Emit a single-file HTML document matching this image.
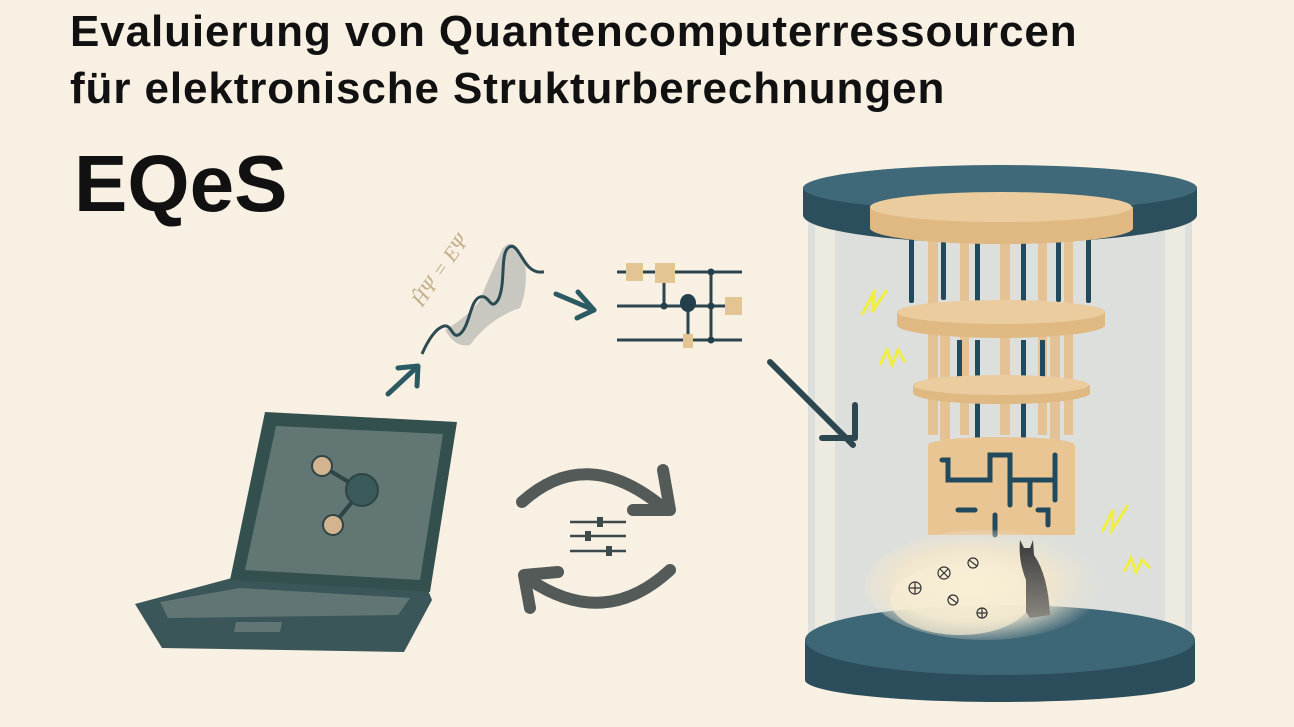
<!DOCTYPE html>
<html><head><meta charset="utf-8"><style>
html,body{margin:0;padding:0;background:#f8f0e3;}
body{width:1294px;height:727px;overflow:hidden;position:relative;font-family:"Liberation Sans",sans-serif;}
.t{position:absolute;left:70px;font-weight:bold;color:#111;font-size:44px;letter-spacing:0.9px;white-space:nowrap;line-height:1;}
</style></head><body>
<div class="t" style="top:10px;">Evaluierung von Quantencomputerressourcen</div>
<div class="t" style="top:67px;">für elektronische Strukturberechnungen</div>
<div class="t" style="top:144px;left:74px;font-size:80px;letter-spacing:0;">EQeS</div>
<svg width="1294" height="727" style="position:absolute;left:0;top:0">
<defs>
<radialGradient id="cl" cx="0.45" cy="0.5" r="0.55"><stop offset="0" stop-color="#fff6dc"/><stop offset="0.6" stop-color="#f2e6cc" stop-opacity="0.9"/><stop offset="1" stop-color="#e8e2d6" stop-opacity="0"/></radialGradient>
<linearGradient id="cat" x1="0" y1="0" x2="0" y2="1"><stop offset="0" stop-color="#3a3a3a"/><stop offset="1" stop-color="#8a8680"/></linearGradient>
</defs>
<rect x="808" y="215" width="384" height="440" fill="#dcdfdc"/>
<rect x="815" y="215" width="20" height="440" fill="#f1ece0" opacity="0.8"/>
<rect x="1165" y="215" width="20" height="440" fill="#f1ece0" opacity="0.8"/>
<path d="M805 640 L805 680 A195 22 0 0 0 1195 680 L1195 640 Z" fill="#2c4d5b"/>
<ellipse cx="1000" cy="640" rx="195" ry="35" fill="#3d6676"/>
<path d="M803 188 L803 215 A197 28 0 0 0 1197 215 L1197 188 Z" fill="#2c4f5d"/>
<ellipse cx="1000" cy="188" rx="197" ry="23" fill="#3f6878"/>
<g fill="#e5c293">
<rect x="928" y="235" width="10" height="200"/><rect x="960" y="235" width="9" height="200"/><rect x="1000" y="235" width="10" height="200"/><rect x="1038" y="235" width="9" height="200"/><rect x="1064" y="235" width="9" height="200"/>
<rect x="940" y="330" width="10" height="110"/><rect x="1050" y="330" width="10" height="110"/>
</g>
<g fill="#234a5c">
<rect x="909" y="228" width="5" height="75" rx="2"/><rect x="941" y="215" width="5" height="85" rx="2"/><rect x="975" y="212" width="5" height="90" rx="2"/><rect x="1021" y="212" width="5" height="90" rx="2"/><rect x="1056" y="214" width="5" height="88" rx="2"/><rect x="1086" y="228" width="5" height="75" rx="2"/>
<rect x="957" y="340" width="5" height="40"/><rect x="975" y="340" width="5" height="40"/><rect x="1021" y="340" width="5" height="40"/><rect x="1040" y="340" width="5" height="40"/>
<rect x="975" y="398" width="5" height="40"/><rect x="1021" y="398" width="5" height="40"/>
</g>
<path d="M870 207 L870 228 A131 16 0 0 0 1133 228 L1133 207 Z" fill="#dfb882"/>
<ellipse cx="1001" cy="207" rx="131" ry="15" fill="#ebcc9e"/>
<path d="M897 312 L897 325 A104 13 0 0 0 1105 325 L1105 312 Z" fill="#dfb882"/>
<ellipse cx="1001" cy="312" rx="104" ry="12" fill="#ebcc9e"/>
<path d="M913 385 L913 393 A88 11 0 0 0 1090 393 L1090 385 Z" fill="#dfb882"/>
<ellipse cx="1001" cy="385" rx="88" ry="10" fill="#ebcc9e"/>
<path d="M928 445 A73 8 0 0 1 1075 445 L1075 535 L928 535 Z" fill="#e8c593"/>
<g fill="none" stroke="#234a5c" stroke-width="5" stroke-linecap="round">
<path d="M942 460 L948 460 L948 480 L990 480 L990 455 L1010 455 L1010 480 L1055 480"/>
<path d="M1055 455 L1055 500"/><path d="M1010 480 L1010 505"/><path d="M1030 480 L1030 505"/>
<path d="M958 510 L975 510"/><path d="M995 515 L995 535"/><path d="M1038 510 L1048 510 L1048 525"/>
</g>
<ellipse cx="985" cy="585" rx="120" ry="55" fill="url(#cl)"/>
<ellipse cx="960" cy="600" rx="70" ry="35" fill="#f6ecd3" opacity="0.7"/>
<g fill="none" stroke="#333" stroke-width="1.2">
<circle cx="915" cy="588" r="6"/><path d="M909 588h12M915 582v12"/>
<circle cx="944" cy="573" r="6"/><path d="M940 569l8 8M948 569l-8 8"/>
<circle cx="973" cy="563" r="5"/><path d="M969 560l8 6"/>
<circle cx="953" cy="600" r="5"/><path d="M949 597l8 6"/>
<circle cx="982" cy="613" r="5"/><path d="M977 613h10M982 608v10"/>
</g>
<path d="M1020 540 L1024 548 L1030 548 L1033 540 L1034 555 Q1048 575 1050 615 L1030 618 L1026 612 L1026 580 Q1018 560 1020 540 Z" fill="url(#cat)"/>
<g fill="none" stroke="#f0ee40" stroke-width="3">
<path d="M862 315 L875 290 L872 312 L887 290"/>
<path d="M880 365 L887 350 L892 365 L898 350 L905 362"/>
<path d="M1102 532 L1113 510 L1112 530 L1128 505"/>
<path d="M1124 572 L1131 558 L1136 572 L1142 560 L1150 568"/>
</g>
<g fill="none" stroke="#2c4750" stroke-width="6" stroke-linecap="round" stroke-linejoin="round">
<path d="M770 362 L853 445"/><path d="M822 438 L855 438 L855 405"/>
</g>
<g fill="none" stroke="#2b5a62" stroke-width="5" stroke-linecap="round" stroke-linejoin="round">
<path d="M388 394 L416 368"/><path d="M398 368 L418 366 L417 386"/>
<path d="M556 294 L594 310"/><path d="M578 292 L594 310 L577 318"/>
</g>
<path d="M445 330 Q470 315 480 300 Q492 270 503 248 Q515 235 525 262 Q528 290 520 308 Q490 318 470 345 Q455 348 445 330 Z" fill="#c8c7c0"/>
<path d="M422 354 C428 340 436 328 444 326 C452 324 452 340 460 334 C470 326 470 300 480 297 C490 294 490 312 498 300 C506 285 500 255 508 248 C516 240 522 262 530 268 C536 273 540 272 544 272" fill="none" stroke="#2c4a52" stroke-width="3"/>
<text x="0" y="0" transform="translate(422,308) rotate(-55)" font-family="Liberation Serif,serif" font-style="italic" font-size="21" fill="#c3ad8a">ĤΨ = EΨ</text>
<g stroke="#2c4450" stroke-width="3">
<path d="M617 272 H742 M617 306 H742 M617 340 H742"/>
<path d="M664 272 V306 M688 306 V340 M711 272 V340"/>
</g>
<g fill="#e3c593">
<rect x="626" y="263" width="17" height="18"/><rect x="655" y="263" width="20" height="20"/><rect x="725" y="297" width="17" height="18"/><rect x="683" y="334" width="10" height="14"/>
</g>
<g fill="#233f4b">
<circle cx="664" cy="306" r="3.5"/><ellipse cx="688" cy="303" rx="8" ry="9"/><circle cx="711" cy="272" r="3.5"/><circle cx="711" cy="306" r="3.5"/><circle cx="711" cy="340" r="3.5"/>
</g>
<g fill="none" stroke="#535a58" stroke-width="12" stroke-linecap="round" stroke-linejoin="round">
<path d="M522 502 Q585 445 660 505"/><path d="M663 470 L670 510 L633 510"/>
<path d="M670 570 Q605 630 530 580"/><path d="M530 608 L524 575 L558 572"/>
</g>
<g stroke="#3d4a4c" stroke-width="2.5"><path d="M570 522 H626 M570 536 H626 M570 551 H626"/></g>
<g fill="#3d4a4c"><rect x="597" y="517" width="6" height="10"/><rect x="585" y="531" width="6" height="10"/><rect x="606" y="546" width="6" height="10"/></g>
<path d="M135 604 L232 578 L428 590 L432 600 L404 652 L162 648 Z" fill="#3b5658"/>
<path d="M160 602 L240 588 L410 598 L398 615 L168 618 Z" fill="#617674"/>
<path d="M236 622 L282 622 L280 632 L234 632 Z" fill="#617674"/>
<path d="M265 412 L457 422 L430 592 L230 580 Z" fill="#33504f"/>
<path d="M276 426 L443 434 L420 580 L245 570 Z" fill="#627774"/>
<g stroke="#2e4446" stroke-width="4" fill="none"><path d="M322 466 L362 490 L333 525"/></g>
<circle cx="322" cy="466" r="10" fill="#d2b48f" stroke="#2e4446" stroke-width="2"/>
<circle cx="362" cy="490" r="16" fill="#3a5959" stroke="#2e4446" stroke-width="2"/>
<circle cx="333" cy="525" r="10" fill="#d2b48f" stroke="#2e4446" stroke-width="2"/>
</svg>
</body></html>
